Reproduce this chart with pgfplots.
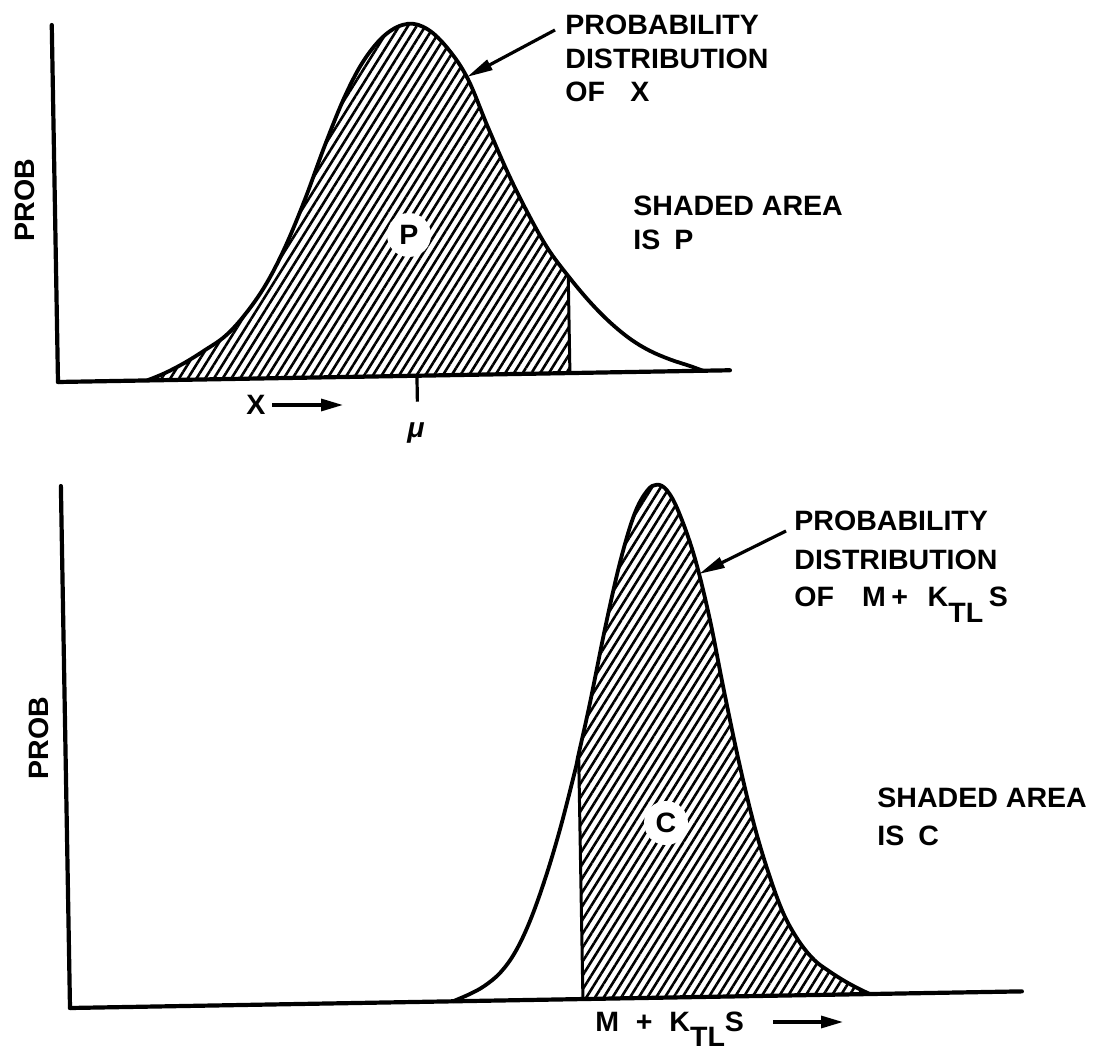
\documentclass[border=0pt]{standalone}
\usepackage{pgfplots}
\pgfplotsset{compat=1.18}
\usepackage{pgfplotstable}
\usepackage{fontspec}
\setmainfont{Liberation Sans}[FakeStretch=1.02]
\usetikzlibrary{arrows.meta,patterns.meta}

% Density of X: position along the axis, height above the axis
\pgfplotstableread{
x h
147 0
165 7
185 17
205 29
226 43
246 64
267 93
287 130
308 178
329 232
350 281
370 317
392 342
414 352
434 346
454 326
473 296
492 248
512 200
531 160
550 125
570 97
591 71
611 50
631 33
650 21
670 12
690 5
703 0
}\distX

% Density of M + K_TL S
\pgfplotstableread{
x h
453 0
470 7
485 15
501 28
516 48
531 78
547 120
563 170
579 228
583 245
595 295
612 372
628 437
643 484
656 507
666 513
676 507
687 486
702 441
716 380
729 308
743 235
757 172
771 122
785 82
800 54
815 35
829 24
844 14
858 6
870 0
}\distM

\pgfplotsset{
  sketch/.style={
    scale only axis, axis lines=left,
    axis line style={-, line width=2.1pt, line cap=round},
    ticks=none, clip=false, anchor=south west,
  },
  curve/.style={black, line width=1.9pt, smooth, tension=0.6, line join=round},
  hatch/.style={draw=none, pattern={Lines[angle=58,distance=3.7pt,line width=1.3pt]}, pattern color=black},
}

\begin{document}
\begin{tikzpicture}
\useasboundingbox (0,0) rectangle (548.5pt,528pt);

% upper panel: distribution of X
\begin{scope}[transform canvas={rotate around={1:(29pt,337pt)}}]
\begin{axis}[sketch, at={(29pt,337pt)}, width=336pt, height=178.5pt,
  xmin=58, xmax=730, ymin=0, ymax=357]
  \addplot[hatch] table[x=x, y=h, restrict x to domain=147:570] {\distX} \closedcycle;
  \addplot[black, line width=1.5pt] coordinates {(570,0) (570,97)};
  \addplot[curve] table[x=x, y=h] {\distX};
  \draw[line width=1.6pt] (axis cs:417,0) -- (axis cs:417,-26);
\end{axis}
\end{scope}

% lower panel: distribution of M + K_TL S
\begin{scope}[transform canvas={rotate around={1:(35pt,24pt)}}]
\begin{axis}[sketch, at={(35pt,24pt)}, width=476pt, height=261pt,
  xmin=70, xmax=1022, ymin=0, ymax=522]
  \addplot[hatch] table[x=x, y=h, restrict x to domain=583:870] {\distM} \closedcycle;
  \addplot[black, line width=1.5pt] coordinates {(583,0) (583,245)};
  \addplot[curve] table[x=x, y=h] {\distM};
\end{axis}
\end{scope}

% lettering
\begin{scope}[shift={(0pt,528pt)}, x=0.5pt, y=-0.5pt,
  every node/.style={font=\fontsize{14}{16}\selectfont\bfseries, inner sep=0pt},
  lbl/.style={anchor=west},
  pointer/.style={line width=1.6pt, -{Triangle[length=13pt,width=5.5pt]}},
  axarrow/.style={line width=1.6pt, -{Triangle[length=11pt,width=6pt]}}]
  % upper panel
  \node[rotate=90] at (25,200) {PROB};
  \node at (256,405) {X};
  \draw[axarrow] (272,405) -- (343,405);
  \node at (416,433) {\itshape μ};
  \node[circle, fill=white, minimum size=22pt] at (409,235) {P};
  \node[lbl] at (565,25) {PROBABILITY};
  \node[lbl] at (565,59) {DISTRIBUTION};
  \node[lbl] at (565,92) {OF\hspace{0.9em}X};
  \draw[pointer] (555,30) -- (467,77);
  \node[lbl] at (633,206) {SHADED AREA};
  \node[lbl] at (633,240) {IS\hspace{0.5em}P};
  % lower panel
  \node[rotate=90] at (39,738) {PROB};
  \node[circle, fill=white, minimum size=22pt] at (666,823) {C};
  \node[lbl] at (794,521) {PROBABILITY};
  \node[lbl] at (794,560) {DISTRIBUTION};
  \node[lbl] at (794,597) {OF\hspace{1em}M\hspace{0.2em}+\hspace{0.7em}K\raisebox{-8pt}[0pt][0pt]{TL}\hspace{0.2em}S};
  \draw[pointer] (786,531) -- (699,574);
  \node[lbl] at (877,798) {SHADED AREA};
  \node[lbl] at (877,836) {IS\hspace{0.5em}C};
  \node[lbl] at (595,1022) {M\hspace{0.6em}+\hspace{0.6em}K\raisebox{-7.5pt}[0pt][0pt]{TL}S};
  \draw[axarrow] (773,1022) -- (843,1022);
\end{scope}
\end{tikzpicture}
\end{document}
